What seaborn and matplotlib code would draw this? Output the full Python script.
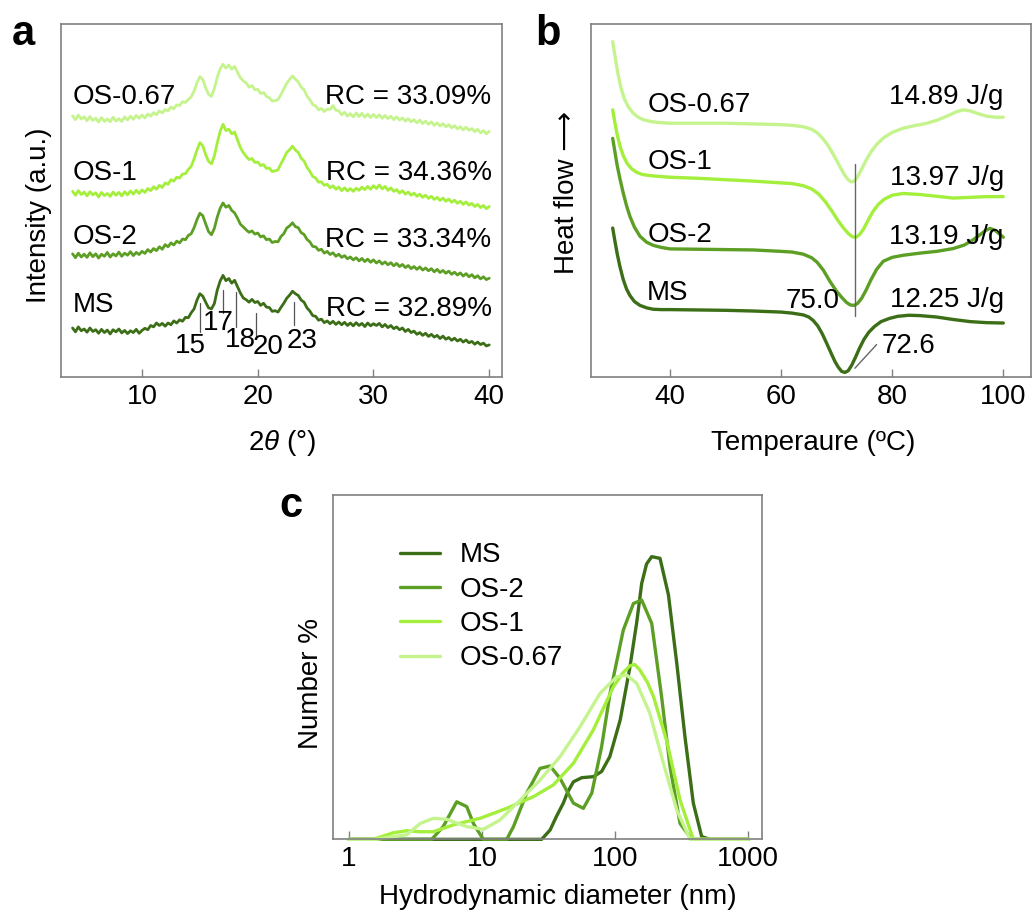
import numpy as np
import pandas as pd
import matplotlib
matplotlib.use("Agg")
import matplotlib.pyplot as plt
import seaborn as sns

sns.set_style("white")
plt.rcParams['font.family'] = ['Liberation Sans', 'DejaVu Sans']
plt.rcParams['mathtext.fontset'] = 'custom'
plt.rcParams['mathtext.it'] = 'Liberation Sans:italic'
plt.rcParams['text.color'] = 'black'
plt.rcParams['axes.labelcolor'] = 'black'
plt.rcParams['xtick.labelcolor'] = 'black'

# colours
c_ms = "#3b6e16"
c_os2 = "#5c9f24"
c_os1 = "#a4ee3c"
c_os067 = "#c5f48e"

# ---------------- (a) XRD, stacked (a.u.) ----------------
two_theta = np.linspace(4, 40, 145)

xrd_ms = [13.9, 12.8, 14.2, 13.1, 13.6, 12.7, 13.9, 12.9, 13.4, 12.4, 13.5, 12.6, 13.3, 12.2, 13.4, 12.8,
          13.6, 12.5, 13.2, 12.3, 13.1, 12.6, 13.5, 12.4, 13.2, 13.8, 13.4, 14.6, 14.2, 15.3, 14.6, 15.2,
          14.4, 15.3, 14.8, 15.9, 15.3, 16.2, 15.8, 16.9, 16.8, 18.2, 19.3, 21.8, 23.6, 22.9, 21.2, 19.6,
          19.3, 20.8, 24.6, 27.2, 28.8, 27.3, 27.9, 26.6, 27.4, 25.6, 23.8, 22.4, 21.9, 21.2, 22.0, 21.1,
          21.4, 20.3, 20.9, 19.8, 19.7, 18.6, 18.8, 18.4, 19.7, 20.9, 22.3, 23.2, 24.3, 23.6, 23.1, 21.8,
          21.2, 19.6, 18.7, 17.4, 17.2, 16.1, 16.4, 15.4, 15.9, 15.1, 15.8, 14.9, 15.6, 14.8, 15.5, 14.6,
          15.3, 14.5, 15.4, 14.6, 15.2, 14.3, 15.3, 14.5, 15.1, 14.6, 15.2, 14.2, 14.9, 14.0, 14.6, 13.7,
          14.2, 13.4, 13.9, 12.9, 13.5, 12.6, 13.0, 12.1, 12.6, 11.8, 12.4, 11.5, 12.1, 11.3, 11.8, 10.9,
          11.6, 10.7, 11.2, 10.4, 11.0, 10.2, 10.7, 9.9, 10.5, 9.7, 10.1, 9.3, 9.9, 9.2, 9.6, 8.8, 9.1]

xrd_os2 = [34.9, 33.8, 35.1, 34.0, 34.8, 33.9, 35.2, 34.1, 34.9, 33.7, 34.8, 34.2, 35.3, 34.0, 34.9, 34.3,
           35.4, 34.2, 35.1, 34.5, 35.5, 34.4, 35.3, 34.7, 35.6, 35.0, 36.1, 35.4, 36.4, 35.8, 36.9, 36.2,
           37.5, 36.9, 38.0, 37.4, 38.5, 38.0, 39.1, 38.9, 40.1, 40.6, 42.3, 44.6, 46.4, 45.7, 43.4, 41.2,
           40.3, 42.1, 45.3, 47.8, 49.3, 48.1, 48.6, 47.2, 46.5, 45.0, 43.3, 42.5, 41.7, 41.0, 41.4, 40.5,
           40.8, 39.7, 40.0, 38.9, 39.1, 38.1, 38.4, 38.3, 39.8, 40.6, 42.2, 42.8, 43.7, 42.6, 42.3, 40.9,
           40.4, 39.0, 38.3, 37.0, 36.9, 35.9, 36.2, 35.1, 35.6, 34.7, 35.2, 34.2, 34.8, 33.9, 34.4, 33.5,
           34.0, 33.2, 33.8, 32.9, 33.6, 32.7, 33.4, 32.5, 33.2, 32.3, 32.9, 32.0, 32.6, 31.8, 32.4, 31.5,
           32.2, 31.3, 31.9, 31.0, 31.6, 30.7, 31.3, 30.5, 31.2, 30.3, 30.9, 30.1, 30.7, 29.8, 30.5, 29.6,
           30.2, 29.4, 30.0, 29.1, 29.7, 28.9, 29.5, 28.6, 29.3, 28.4, 29.0, 28.1, 28.7, 27.8, 28.4, 27.6, 28.0]

xrd_os1 = [52.6, 51.5, 52.8, 51.7, 52.4, 51.3, 52.5, 51.6, 52.2, 51.0, 52.3, 51.4, 52.0, 51.2, 52.4, 51.5,
           52.3, 51.3, 52.5, 51.6, 52.7, 51.8, 52.9, 52.0, 53.0, 52.3, 53.4, 52.8, 53.9, 53.2, 54.3, 53.7,
           55.0, 54.6, 55.9, 55.5, 56.6, 56.4, 57.5, 57.6, 58.8, 59.7, 61.8, 64.3, 66.4, 65.5, 63.0, 61.1,
           60.4, 62.6, 66.3, 69.6, 71.6, 69.8, 70.2, 68.9, 69.4, 67.2, 65.0, 63.6, 62.5, 61.6, 61.9, 60.8,
           60.9, 59.9, 60.2, 59.1, 59.2, 58.2, 58.4, 58.7, 60.4, 61.9, 63.6, 64.4, 65.4, 64.3, 63.6, 62.0,
           61.2, 59.4, 58.3, 56.8, 56.4, 55.2, 55.3, 54.3, 54.6, 53.6, 54.2, 53.2, 53.8, 52.8, 53.6, 52.7,
           53.4, 52.6, 53.5, 52.9, 53.8, 53.1, 54.0, 53.2, 54.2, 53.4, 54.4, 53.3, 54.0, 52.9, 53.6, 52.6,
           53.1, 52.1, 52.8, 51.8, 52.4, 51.5, 52.1, 51.2, 51.8, 50.9, 51.5, 50.6, 51.2, 50.3, 50.9, 50.0,
           50.7, 49.8, 50.4, 49.5, 50.1, 49.2, 49.8, 48.9, 49.6, 48.7, 49.2, 48.3, 48.9, 48.0, 48.6, 47.7, 48.3]

xrd_os067 = [74.0, 72.9, 74.2, 73.1, 73.7, 72.6, 73.8, 72.7, 73.3, 72.2, 73.5, 72.4, 73.1, 72.3, 73.6, 72.5,
             73.2, 72.4, 73.7, 72.8, 73.9, 73.0, 74.1, 73.3, 74.2, 73.4, 74.5, 73.9, 74.9, 74.3, 75.4, 74.8,
             75.8, 75.4, 76.5, 76.0, 77.1, 76.9, 78.0, 77.8, 78.6, 79.4, 81.0, 83.3, 85.1, 84.3, 81.9, 80.1,
             79.5, 81.7, 84.9, 87.3, 88.6, 87.5, 88.4, 87.2, 88.0, 86.3, 84.8, 83.9, 83.3, 82.1, 82.6, 81.4,
             81.5, 80.3, 80.6, 79.5, 79.1, 78.2, 78.3, 78.6, 80.0, 81.6, 83.2, 84.3, 85.3, 84.4, 83.6, 82.1,
             81.4, 79.6, 78.6, 77.2, 76.8, 75.7, 76.1, 75.2, 75.9, 75.8, 76.9, 75.6, 75.4, 74.3, 75.0, 73.9,
             74.6, 73.7, 74.8, 73.8, 74.7, 73.6, 74.5, 73.5, 74.4, 73.5, 74.3, 73.3, 74.1, 73.2, 73.9, 72.9,
             73.7, 72.8, 73.4, 72.5, 73.2, 72.3, 72.9, 72.0, 72.8, 71.8, 72.5, 71.6, 72.3, 71.3, 72.0, 71.1,
             71.8, 70.9, 71.5, 70.6, 71.2, 70.3, 70.9, 70.0, 70.8, 69.9, 70.4, 69.5, 70.2, 69.2, 69.8, 68.9, 69.6]

rc_labels = ["RC = 33.09%", "RC = 34.36%", "RC = 33.34%", "RC = 32.89%"]
peak_pos = [15.0, 17.0, 18.1, 19.85, 23.1]
peak_top = [21.0, 24.6, 24.1, 18.1, 21.2]
peak_bot = [12.7, 18.1, 14.2, 11.6, 14.7]
peak_txt = ["15", "17", "18", "20", "23"]
peak_txt_x = [14.15, 16.6, 18.5, 20.9, 23.8]
peak_txt_y = [8.8, 15.3, 10.6, 8.5, 10.2]

# ---------------- (b) DSC ----------------
t_os067 = [29.7, 30.2, 30.7, 31.2, 31.8, 32.5, 33.3, 34.2, 35.2, 36.5, 38, 40, 45, 50, 55, 60, 62, 64,
           65.5, 66.5, 67.5, 68.5, 69.5, 70.5, 71.3, 72, 72.6, 73.2, 73.8, 74.5, 75.3, 76.2, 77.2, 78.5,
           80, 82, 84, 86, 88, 90, 91.5, 92.8, 94, 95.5, 97, 98.5, 100]
hf_os067 = [95, 90, 85.5, 81.8, 78.8, 76.6, 74.9, 73.7, 72.9, 72.4, 72.1, 71.9, 71.9, 71.9, 71.7, 71.5,
            71.3, 70.9, 70.2, 69.2, 67.6, 65.5, 62.8, 59.9, 57.6, 56.0, 55.3, 55.5, 56.8, 58.9, 61.4,
            63.8, 65.9, 67.8, 69.3, 70.5, 71.2, 71.8, 72.7, 74.0, 75.1, 75.7, 75.4, 74.6, 73.9, 73.6, 73.6]

t_os1 = [29.7, 30.1, 30.5, 31, 31.6, 32.3, 33.1, 34, 35, 36.2, 37.5, 40, 45, 50, 55, 60, 62, 64, 65.5,
         66.8, 68, 69.2, 70.3, 71.3, 72.2, 72.9, 73.5, 74.1, 74.8, 75.6, 76.5, 77.5, 78.6, 80, 82, 85,
         88, 91, 94, 97, 100]
hf_os1 = [75.7, 72, 68.7, 65.5, 62.7, 60.5, 59, 58, 57.4, 57.1, 56.9, 56.6, 56.3, 55.9, 55.5, 55.0, 54.8,
          54.2, 53.3, 51.8, 49.6, 46.9, 44.2, 42.1, 40.5, 39.7, 39.6, 40.3, 41.8, 44.2, 46.8, 48.9, 50.4,
          51.5, 52.0, 51.7, 51.2, 50.7, 50.9, 51.1, 51.1]

t_os2 = [29.7, 30.1, 30.5, 31, 31.6, 32.2, 32.8, 33.6, 34.6, 35.8, 37, 38.5, 40, 45, 50, 55, 60, 62, 64,
         65.5, 66.5, 67.6, 68.8, 69.9, 70.9, 71.8, 72.5, 73.2, 73.8, 74.5, 75.3, 76.2, 77.2, 78.4, 80, 82,
         85, 88, 91, 93, 94.5, 95.8, 96.8, 97.6, 98.5, 99.3, 100]
hf_os2 = [67.6, 63.8, 60.0, 56.2, 52.1, 48.5, 45.5, 42.5, 39.9, 38.2, 37.3, 36.7, 36.3, 36.2, 36.1, 36.0,
          35.6, 35.4, 34.8, 33.8, 32.5, 30.3, 27.1, 24.5, 22.6, 21.1, 20.4, 20.3, 20.9, 22.3, 24.6, 27.6,
          30.5, 32.8, 33.9, 34.5, 35.1, 35.6, 36.4, 37.4, 38.8, 40.3, 41.5, 42.1, 41.6, 40.5, 39.6]

t_ms = [29.7, 30.1, 30.5, 31, 31.6, 32.2, 32.8, 33.6, 34.6, 35.8, 37, 38.5, 40, 45, 50, 55, 60, 62, 64,
        65, 65.8, 66.6, 67.4, 68.2, 69, 69.7, 70.3, 70.9, 71.5, 72.1, 72.7, 73.4, 74.1, 74.9, 75.8, 76.8,
        78, 79.5, 81, 83, 85, 88, 91, 94, 97, 100]
hf_ms = [42.2, 38.5, 35.0, 31.3, 27.6, 24.9, 23.1, 21.4, 20.3, 19.6, 19.2, 19.1, 19.1, 19.0, 18.9, 18.7,
         18.4, 18.1, 17.6, 17.0, 16.0, 14.5, 12.3, 9.6, 6.8, 4.4, 2.8, 1.6, 1.3, 1.8, 3.3, 5.6, 8.1, 10.6,
         12.7, 14.3, 15.7, 16.6, 17.2, 17.5, 17.4, 17.0, 16.3, 15.7, 15.4, 15.3]

enthalpy = ["14.89 J/g", "13.97 J/g", "13.19 J/g", "12.25 J/g"]

# ---------------- (c) DLS ----------------
d_ms = [1, 2, 5, 10, 20, 28, 32.4, 36, 40.7, 44, 48.5, 56, 68.5, 79, 91, 109, 129, 145, 158, 172, 188,
        217, 251, 290, 334, 386, 446, 515, 700, 1000]
n_ms = [0, 0, 0, 0, 0, 0, 2.7, 6.5, 10.5, 13.8, 16.7, 17.9, 18.2, 19.7, 24, 34.7, 50.1, 63, 74.3, 80,
        82.1, 81.6, 71, 51.1, 29.8, 10.5, 0.8, 0, 0, 0]

d_os2 = [1, 2, 4.18, 5.1, 6.44, 7.66, 8.6, 10.2, 15.3, 17.2, 21.6, 27.2, 32.4, 38.5, 48.5, 57.6, 66.6,
         79, 91.4, 115, 137, 158, 188, 223, 258, 307, 375, 500, 1000]
n_os2 = [0, 0, 0, 3.7, 10.9, 9.5, 4.6, 0, 0, 3.7, 13.4, 20.6, 21.3, 17.7, 10.5, 9.0, 13.4, 26.9, 42.4,
         60.8, 68.5, 69.5, 62.7, 41.4, 21.1, 4.6, 0, 0, 0]

d_os1 = [1, 1.52, 2.15, 2.71, 3.42, 4.3, 6.08, 9.64, 15.3, 24.3, 34.3, 48.5, 68.5, 96.8, 115, 129, 140,
         153, 175, 194, 244, 307, 386, 500, 1000]
n_os1 = [0, 0, 1.9, 2.5, 2.2, 2.2, 4.2, 6.1, 9.0, 12.4, 15.8, 22.1, 31.8, 44.3, 48.5, 50.4, 50.8, 49.2,
         45.5, 41.4, 28.5, 11.4, 0, 0, 0]

d_os067 = [1, 1.61, 2.15, 2.71, 3.42, 4.3, 5.42, 7.66, 10.2, 13.6, 19.3, 27.2, 38.5, 54.4, 76.9, 102.6,
           122, 145, 182, 230, 290, 365, 500, 1000]
n_os067 = [0, 0, 0.8, 1.3, 4.6, 6.1, 5.8, 3.7, 2.9, 5.6, 11.4, 17.2, 24, 32.7, 42.4, 47.2, 47.7, 45.3,
           36.6, 22.1, 8.5, 0, 0, 0]

samples = ["MS", "OS-2", "OS-1", "OS-0.67"]
colors = [c_ms, c_os2, c_os1, c_os067]

FS = 20
spine_c = "#808080"


def style_axes(ax):
    for s in ax.spines.values():
        s.set_color(spine_c)
        s.set_linewidth(1.2)
    ax.tick_params(axis="x", direction="in", length=6, width=1, color=spine_c,
                   labelsize=FS, pad=5, bottom=True, labelcolor="black")
    ax.set_yticks([])


fig = plt.figure(figsize=(10.32, 9.14), dpi=100)

# ---- a ----
ax1 = fig.add_axes([0.0591, 0.5875, 0.4273, 0.3862])
xrd = [xrd_ms, xrd_os2, xrd_os1, xrd_os067]
for name, ys, col in zip(samples, xrd, colors):
    sns.lineplot(x=two_theta, y=ys, color=col, lw=2.0, ax=ax1, estimator=None, sort=False)
for p, t, b in zip(peak_pos, peak_top, peak_bot):
    ax1.plot([p, p], [b, t], color="#555555", lw=0.9)
for s, x, y in zip(peak_txt, peak_txt_x, peak_txt_y):
    ax1.text(x, y, s, fontsize=FS, ha="center", va="center")
lab_y = [79.4, 57.8, 39.7, 20.3]
rc_y = [79.4, 57.8, 38.9, 19.4]
for name, y in zip(samples[::-1], lab_y):
    ax1.text(4.0, y, name, fontsize=FS, ha="left", va="center")
for s, y in zip(rc_labels, rc_y):
    ax1.text(40.2, y, s, fontsize=FS, ha="right", va="center")
ax1.set_xlim(3, 41.1)
ax1.set_ylim(0, 100)
ax1.set_xticks([10, 20, 30, 40])
style_axes(ax1)
ax1.set_xlabel(r"2$\mathit{\theta}$ (°)", fontsize=FS)
ax1.xaxis.set_label_coords(0.501, -0.187)
ax1.xaxis.label.set_verticalalignment("center")
ax1.set_ylabel("Intensity (a.u.)", fontsize=FS)
ax1.yaxis.set_label_coords(-0.05, 0.459)
ax1.yaxis.label.set_verticalalignment("center")

# ---- b ----
ax2 = fig.add_axes([0.5727, 0.5875, 0.4264, 0.3862])
dsc_t = [t_ms, t_os2, t_os1, t_os067]
dsc_h = [hf_ms, hf_os2, hf_os1, hf_os067]
for name, xs, ys, col in zip(samples, dsc_t, dsc_h, colors):
    sns.lineplot(x=xs, y=ys, color=col, lw=2.4, ax=ax2, estimator=None, sort=False)
for ln in ax2.lines:
    ln.set_solid_joinstyle("round")
    ln.set_solid_capstyle("round")
ax2.plot([73.4, 73.4], [17.2, 60.4], color="#666666", lw=1)
ax2.plot([73.3, 77.2], [2.5, 9.2], color="#666666", lw=1)
ax2.text(70.6, 21.4, "75.0", fontsize=FS, ha="right", va="center")
ax2.text(78.1, 8.7, "72.6", fontsize=FS, ha="left", va="center")
lab_y = [77.1, 61.0, 40.3, 23.8]
for name, y in zip(samples[::-1], lab_y):
    ax2.text(35.9, y, name, fontsize=FS, ha="left", va="center")
en_y = [79.4, 56.3, 39.8, 21.9]
for s, y in zip(enthalpy, en_y):
    ax2.text(100.1, y, s, fontsize=FS, ha="right", va="center")
ax2.set_xlim(25.8, 105)
ax2.set_ylim(0, 100)
ax2.set_xticks([40, 60, 80, 100])
style_axes(ax2)
ax2.set_xlabel("Temperaure (ºC)", fontsize=FS)
ax2.xaxis.set_label_coords(0.505, -0.187)
ax2.xaxis.label.set_verticalalignment("center")
ax2.set_ylabel("Heat flow \u27f6", fontsize=FS)
ax2.yaxis.set_label_coords(-0.055, 0.524)
ax2.yaxis.label.set_verticalalignment("center")

# ---- c ----
ax3 = fig.add_axes([0.3224, 0.0817, 0.4163, 0.3767])
dls_d = [d_ms, d_os2, d_os1, d_os067]
dls_n = [n_ms, n_os2, n_os1, n_os067]
for name, xs, ys, col in zip(samples, dls_d, dls_n, colors):
    sns.lineplot(x=xs, y=ys, color=col, lw=2.4, ax=ax3, estimator=None, sort=False, label=name)
for ln in ax3.lines:
    ln.set_clip_on(False)
ax3.set_xscale("log")
ax3.set_xlim(0.754, 1274)
ax3.set_ylim(0, 100)
ax3.set_xticks([1, 10, 100, 1000])
ax3.set_xticklabels(["1", "10", "100", "1000"])
ax3.minorticks_off()
style_axes(ax3)
ax3.legend(loc="upper left", bbox_to_anchor=(0.13, 0.895), frameon=False, fontsize=FS,
           handlelength=1.45, handletextpad=0.7, labelspacing=0.3, borderaxespad=0)
ax3.set_xlabel("Hydrodynamic diameter (nm)", fontsize=FS)
ax3.xaxis.set_label_coords(0.524, -0.168)
ax3.xaxis.label.set_verticalalignment("center")
ax3.set_ylabel("Number %", fontsize=FS)
ax3.yaxis.set_label_coords(-0.051, 0.454)
ax3.yaxis.label.set_verticalalignment("center")

# panel letters
fig.text(23 / 1032, 1 - 45 / 914, "a", fontsize=30, fontweight="bold", ha="center", va="baseline")
fig.text(548 / 1032, 1 - 45 / 914, "b", fontsize=30, fontweight="bold", ha="center", va="baseline")
fig.text(291 / 1032, 1 - 517 / 914, "c", fontsize=30, fontweight="bold", ha="center", va="baseline")

fig.savefig("out.png", dpi=100)
